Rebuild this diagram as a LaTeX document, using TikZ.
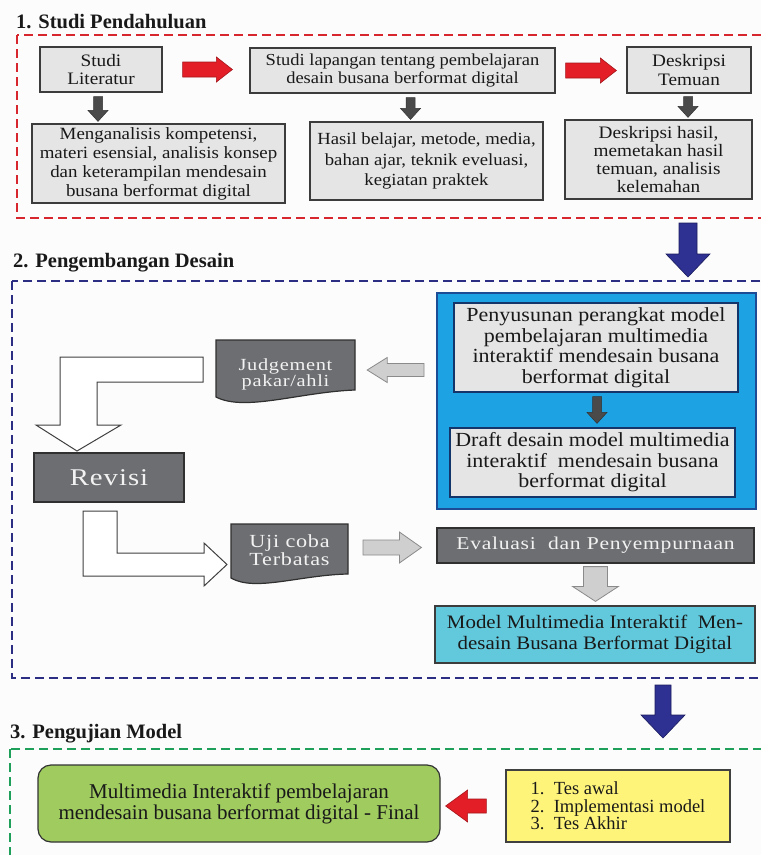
\documentclass[tikz,border=0pt]{standalone}
\usepackage{fontspec}
\setmainfont{Liberation Serif}
\newfontfamily\widefont[FakeStretch=1.1]{Liberation Serif}
\newfontfamily\spfont[FakeStretch=1.2,LetterSpace=4]{Liberation Serif}
\usetikzlibrary{calc}

\definecolor{bgc}{HTML}{FCFCFC}
\definecolor{reddash}{HTML}{D7262E}
\definecolor{redfill}{HTML}{E41E26}
\definecolor{rededge}{HTML}{A3161C}
\definecolor{navydash}{HTML}{2B2E83}
\definecolor{bluefill}{HTML}{2E3192}
\definecolor{blueedge}{HTML}{1B1D5E}
\definecolor{panelfill}{HTML}{1DA2E3}
\definecolor{paneledge}{HTML}{1C4C96}
\definecolor{lgray}{HTML}{E5E5E5}
\definecolor{boxedge}{HTML}{3C3C3C}
\definecolor{dgray}{HTML}{6D6E71}
\definecolor{arrowdark}{HTML}{4A4A4A}
\definecolor{garrow}{HTML}{CFCFCF}
\definecolor{garrowedge}{HTML}{8A8A8A}
\definecolor{modelfill}{HTML}{62C9DC}
\definecolor{greenfill}{HTML}{9FCB5F}
\definecolor{greendash}{HTML}{1FA05A}
\definecolor{yellowfill}{HTML}{FFF47A}

\newcommand\blkdown[6]{\path[#1] let \p1=#2, \p2=#3 in
  (\x1-#4,\y1) -- (\x1+#4,\y1) -- (\x1+#4,\y2+#6) -- (\x1+#5,\y2+#6) -- (\x1,\y2)
  -- (\x1-#5,\y2+#6) -- (\x1-#4,\y2+#6) -- cycle;}
\newcommand\blkright[6]{\path[#1] let \p1=#2, \p2=#3 in
  (\x1,\y1+#4) -- (\x2-#6,\y1+#4) -- (\x2-#6,\y1+#5) -- (\x2,\y1) -- (\x2-#6,\y1-#5)
  -- (\x2-#6,\y1-#4) -- (\x1,\y1-#4) -- cycle;}
\newcommand\blkleft[6]{\path[#1] let \p1=#2, \p2=#3 in
  (\x1,\y1+#4) -- (\x2+#6,\y1+#4) -- (\x2+#6,\y1+#5) -- (\x2,\y1) -- (\x2+#6,\y1-#5)
  -- (\x2+#6,\y1-#4) -- (\x1,\y1-#4) -- cycle;}

\tikzset{
  titletext/.style={anchor=base west, inner sep=0pt, font={\bfseries\fontsize{20.5}{24}\selectfont}, text=black!90},
  dashbox/.style={line width=2.6pt, dash pattern=on 9pt off 5pt},
  lbox/.style={draw=boxedge, fill=lgray, line width=1.2pt, align=center, inner sep=0pt,
    text=black!90, font={\widefont\fontsize{17.5}{18.5}\selectfont}},
  pbox/.style={lbox, draw=paneledge!70!black, font={\widefont\fontsize{20}{20.5}\selectfont}},
  dbox/.style={draw=boxedge!80!black, fill=dgray, line width=1.2pt, align=center, inner sep=0pt,
    text=white!95!black},
  docshape/.style={draw=boxedge!80!black, fill=dgray, line width=1.2pt},
  doctext/.style={align=center, inner sep=0pt, text=white!95!black,
    font={\spfont\fontsize{17}{16}\selectfont}},
  redarrow/.style={fill=redfill, draw=rededge, line width=0.6pt},
  bluearrow/.style={fill=bluefill, draw=blueedge, line width=0.6pt},
  darkarrow/.style={fill=arrowdark, draw=black!80, line width=0.5pt},
  grayarrow/.style={fill=garrow, draw=garrowedge, line width=0.8pt},
  hollow/.style={fill=white, draw=black!75, line width=1pt},
}

\begin{document}
\begin{tikzpicture}[x=1pt,y=-1pt]
\useasboundingbox (0,0) rectangle (761,855);
\clip (0,0) rectangle (761,855);
\fill[bgc] (0,0) rectangle (761,855);

% ---------- Section 1 ----------
\node[titletext] (t1) at (16,28) {1. Studi Pendahuluan};
\draw[dashbox, draw=reddash] (17,35) rectangle (780,218);

\node[lbox, minimum width=122pt, minimum height=45pt] (lit) at (101,69.5) {Studi\\Literatur};
\node[lbox, minimum width=305pt, minimum height=45pt, font={\widefont\fontsize{16.8}{18.5}\selectfont}] (lap) at (402.5,70.5) {Studi lapangan tentang pembelajaran\\desain busana berformat digital};
\node[lbox, minimum width=124pt, minimum height=46pt] (desk) at (689,70) {Deskripsi\\Temuan};
\node[lbox, minimum width=253pt, minimum height=79pt, font={\widefont\fontsize{17.2}{19}\selectfont}] (men) at (158.5,163.5)
  {Menganalisis kompetensi,\\materi esensial, analisis konsep\\dan keterampilan mendesain\\busana berformat digital};
\node[lbox, minimum width=233pt, minimum height=78pt, font={\widefont\fontsize{17}{20.5}\selectfont}] (has) at (426.5,161)
  {Hasil belajar, metode, media,\\bahan ajar, teknik eveluasi,\\kegiatan praktek};
\node[lbox, minimum width=187pt, minimum height=79pt, font={\widefont\fontsize{17.5}{18}\selectfont}] (des2) at (658.5,159.5)
  {Deskripsi hasil,\\memetakan hasil\\temuan, analisis\\kelemahan};

\blkright{redarrow}{([xshift=20pt]lit.east)}{([xshift=-17pt]lap.west)}{7.5pt}{12.5pt}{16pt}
\blkright{redarrow}{([xshift=10pt]lap.east)}{([xshift=-10pt]desk.west)}{7.5pt}{12.5pt}{16pt}
\blkdown{darkarrow}{([xshift=-3pt,yshift=-4pt]lit.south)}{([yshift=2pt]men.north)}{4.5pt}{10pt}{11pt}
\blkdown{darkarrow}{([xshift=8pt,yshift=-4pt]lap.south)}{([yshift=2pt]has.north)}{4.5pt}{10pt}{11pt}
\blkdown{darkarrow}{([xshift=-1pt,yshift=-3pt]desk.south)}{([yshift=2pt]des2.north)}{4.5pt}{10pt}{11pt}

\coordinate (b1s) at (688,223);
\coordinate (b1e) at (688,277);
\blkdown{bluearrow}{(b1s)}{(b1e)}{9pt}{22pt}{23pt}

% ---------- Section 2 ----------
\node[titletext] (t2) at (13,267) {2. Pengembangan Desain};
\draw[dashbox, draw=navydash] (12,281) rectangle (780,678);

\node[draw=paneledge, fill=panelfill, line width=1.4pt, minimum width=319pt, minimum height=216pt, inner sep=0pt] (panel) at (596.5,401) {};
\node[pbox, minimum width=284pt, minimum height=89pt] (pen) at (596,347.5)
  {Penyusunan perangkat model\\pembelajaran multimedia\\interaktif mendesain busana\\berformat digital};
\node[pbox, minimum width=285pt, minimum height=69pt] (draft) at (592.5,462.5)
  {Draft desain model multimedia\\interaktif\ \ mendesain busana\\berformat digital};
\blkdown{darkarrow}{([xshift=1pt,yshift=-4pt]pen.south)}{([yshift=4pt]draft.north)}{4.5pt}{10pt}{11pt}

% Judgement document shape
\draw[docshape] (216,340) -- (355,340) -- (355,390) .. controls (300,392) and (245,412) .. (216,397) -- cycle;
\node[doctext, minimum width=139pt] (jud) at (285.5,374) {Judgement\\pakar/ahli};
\coordinate (ga1) at (424,370);
\blkleft{grayarrow}{(ga1)}{([xshift=12pt]jud.east)}{6.5pt}{12.5pt}{20pt}

% hollow bent arrow to Revisi
\draw[hollow] (203,357) -- (60,357) -- (60,425) -- (36,425) -- (77,451) -- (121,425) -- (97,425) -- (97,382) -- (203,382) -- cycle;

\node[dbox, minimum width=150pt, minimum height=49pt, font={\spfont\fontsize{24}{26}\selectfont}] (rev) at (109,477.5) {Revisi};

% hollow bent arrow to Uji coba
\draw[hollow] (83,511) -- (117,511) -- (117,553) -- (204,553) -- (204,543) -- (227,564.5) -- (204,586) -- (204,576) -- (83,576) -- cycle;

\draw[docshape] (231,524) -- (348,524) -- (348,574) .. controls (300,575) and (255,592) .. (231,578) -- cycle;
\node[doctext, minimum width=117pt, font={\spfont\fontsize{18.5}{16.5}\selectfont}] (uji) at (289.5,550) {Uji coba\\Terbatas};

\node[dbox, minimum width=317pt, minimum height=35pt, font={\spfont\fontsize{18}{20}\selectfont}] (eva) at (595.5,545.5) {Evaluasi\ \ dan Penyempurnaan};
\coordinate (ga2) at (363,547.5);
\blkright{grayarrow}{(ga2)}{([xshift=-15pt]eva.west)}{7.5pt}{15.5pt}{22pt}

\node[lbox, fill=modelfill, minimum width=320pt, minimum height=57pt, font={\widefont\fontsize{19}{21}\selectfont}] (model) at (595,634.5)
  {Model Multimedia Interaktif\ \ Men-\\desain Busana Berformat Digital};
\blkdown{grayarrow}{([yshift=-3pt]eva.south)}{([yshift=4pt]model.north)}{12pt}{23pt}{15pt}

\coordinate (b2s) at (663,685);
\coordinate (b2e) at (663,738);
\blkdown{bluearrow}{(b2s)}{(b2e)}{8pt}{22pt}{23pt}

% ---------- Section 3 ----------
\node[titletext] (t3) at (10,738) {3. Pengujian Model};
\draw[dashbox, draw=greendash] (10,749) rectangle (780,880);

\node[draw=black!80, fill=greenfill, line width=1.2pt, rounded corners=13pt, minimum width=402pt, minimum height=77pt,
  align=center, inner sep=0pt, text=black!90, font={\fontsize{21}{21}\selectfont}] (grn) at (239,803.5)
  {Multimedia Interaktif pembelajaran\\mendesain busana berformat digital - Final};
\node[draw=black!75, fill=yellowfill, line width=1.2pt, minimum width=224pt, minimum height=72pt,
  align=left, inner sep=0pt, text=black!90, font={\fontsize{18.5}{17.5}\selectfont}] (yel) at (618,806)
  {1.\ \ Tes awal\\2.\ \ Implementasi model\\3.\ \ Tes Akhir};
\blkleft{redarrow}{([xshift=-19pt]yel.west)}{([xshift=5pt]grn.east)}{7pt}{16pt}{22pt}

\end{tikzpicture}
\end{document}
